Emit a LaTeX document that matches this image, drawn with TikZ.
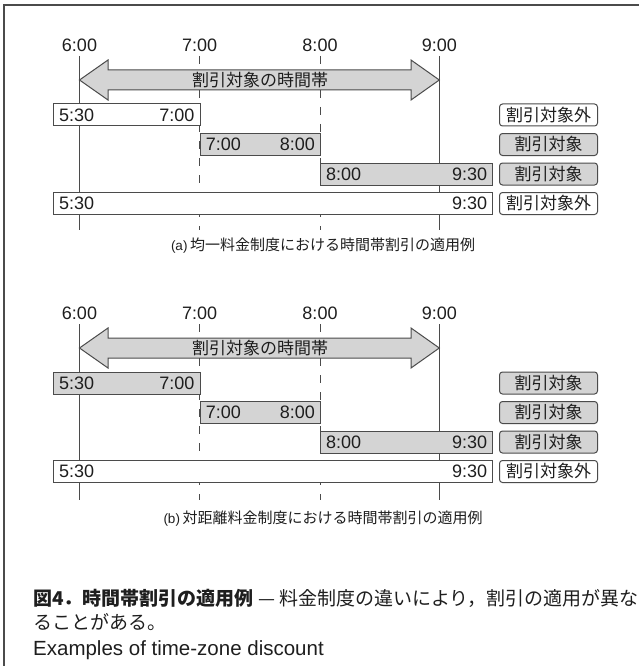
\documentclass[tikz,border=0pt]{standalone}
\usepackage{fontspec}
\setmainfont{Liberation Sans}
\newfontfamily\jp{Noto Sans CJK JP}
\definecolor{lc}{RGB}{75,75,75}
\definecolor{gf}{RGB}{212,212,212}
\definecolor{tc}{RGB}{30,30,30}
\tikzset{
  tm/.style={font=\fontsize{18}{18}\selectfont, text=tc, inner sep=0pt},
  bar/.style={draw=lc, line width=1pt, minimum height=22pt, inner sep=0pt, anchor=north west},
  tag/.style={draw=lc, line width=1pt, rounded corners=3pt, minimum width=98pt, minimum height=22pt,
              inner sep=0pt, anchor=north west, font=\jp\fontsize{17}{17}\selectfont, text=tc},
  vsolid/.style={draw=lc, line width=0.9pt},
  vdash/.style={draw=lc, line width=0.9pt, dash pattern=on 8pt off 9pt},
  arr/.style={draw=lc, line width=1pt, fill=gf},
  arrtxt/.style={font=\jp\fontsize{17}{17}\selectfont, text=tc, inner sep=0pt},
  subcap/.style={font=\jp\fontsize{15}{15}\selectfont, text=tc, inner sep=0pt},
  maincap/.style={font=\jp\fontsize{19}{19}\selectfont, text=tc, inner sep=0pt, anchor=west},
  frame/.style={draw=lc, line width=1.2pt}
}
\begin{document}
\begin{tikzpicture}[x=1pt,y=-1pt]
\useasboundingbox (0,0) rectangle (639,666);
\draw[frame] (639,5) -- (4,5) -- (4,666);

% ---------------- section (a)
\node[tm] (a6) at (79.5,45) {6:00};
\node[tm] (a7) at (199.7,45) {7:00};
\node[tm] (a8) at (320,45) {8:00};
\node[tm] (a9) at (439.3,45) {9:00};
\filldraw[arr] (79.5,80) -- (108,60) -- (108,70) -- (411,70) -- (411,60) -- (439.3,80)
  -- (411,100) -- (411,90) -- (108,90) -- (108,100) -- cycle;
\node[arrtxt] (aA) at (260,80) {割引対象の時間帯};
\coordinate (a6t) at (79.5,56);  \coordinate (a6b) at (79.5,230);
\coordinate (a7t) at (199.7,56); \coordinate (a7b) at (199.7,230);
\coordinate (a8t) at (320,56);   \coordinate (a8b) at (320,230);
\coordinate (a9t) at (439.3,56); \coordinate (a9b) at (439.3,230);
\draw[vsolid] (a6t) -- (a6b);
\draw[vdash] (a7t) -- (a7b);
\draw[vdash] (a8t) -- (a8b);
\draw[vsolid] (a9t) -- (a9b);
\node[bar, fill=white, minimum width=146.7pt] (ar1) at (53,103.5) {};
\node[bar, fill=gf, minimum width=120.3pt] (ar2) at (199.7,133) {};
\node[bar, fill=gf, minimum width=172.3pt] (ar3) at (320,162.5) {};
\node[bar, fill=white, minimum width=439.3pt] (ar4) at (53,192) {};
\node[tm, anchor=west] (ar1l) at ([xshift=6pt]ar1.west) {5:30};
\node[tm, anchor=east] (ar1r) at ([xshift=-6pt]ar1.east) {7:00};
\node[tm, anchor=west] (ar2l) at ([xshift=6pt]ar2.west) {7:00};
\node[tm, anchor=east] (ar2r) at ([xshift=-6pt]ar2.east) {8:00};
\node[tm, anchor=west] (ar3l) at ([xshift=6pt]ar3.west) {8:00};
\node[tm, anchor=east] (ar3r) at ([xshift=-6pt]ar3.east) {9:30};
\node[tm, anchor=west] (ar4l) at ([xshift=6pt]ar4.west) {5:30};
\node[tm, anchor=east] (ar4r) at ([xshift=-6pt]ar4.east) {9:30};
\node[tag, fill=white] (at1) at (499,103.5) {割引対象外};
\node[tag, fill=gf] (at2) at (499,133) {割引対象};
\node[tag, fill=gf] (at3) at (499,162.5) {割引対象};
\node[tag, fill=white] (at4) at (499,192) {割引対象外};
\node[subcap] (acap) at (323,246) {{\rmfamily\fontsize{13.5}{13.5}\selectfont(a)}\,均一料金制度における時間帯割引の適用例};

% ---------------- section (b)
\node[tm] (b6) at (79.5,313) {6:00};
\node[tm] (b7) at (199.7,313) {7:00};
\node[tm] (b8) at (320,313) {8:00};
\node[tm] (b9) at (439.3,313) {9:00};
\filldraw[arr] (79.5,348) -- (108,328) -- (108,338) -- (411,338) -- (411,328) -- (439.3,348)
  -- (411,368) -- (411,358) -- (108,358) -- (108,368) -- cycle;
\node[arrtxt] (bA) at (260,348) {割引対象の時間帯};
\coordinate (b6t) at (79.5,324);  \coordinate (b6b) at (79.5,500);
\coordinate (b7t) at (199.7,324); \coordinate (b7b) at (199.7,500);
\coordinate (b8t) at (320,324);   \coordinate (b8b) at (320,500);
\coordinate (b9t) at (439.3,324); \coordinate (b9b) at (439.3,500);
\draw[vsolid] (b6t) -- (b6b);
\draw[vdash] (b7t) -- (b7b);
\draw[vdash] (b8t) -- (b8b);
\draw[vsolid] (b9t) -- (b9b);
\node[bar, fill=gf, minimum width=146.7pt] (br1) at (53,371.5) {};
\node[bar, fill=gf, minimum width=120.3pt] (br2) at (199.7,401) {};
\node[bar, fill=gf, minimum width=172.3pt] (br3) at (320,430.5) {};
\node[bar, fill=white, minimum width=439.3pt] (br4) at (53,460) {};
\node[tm, anchor=west] (br1l) at ([xshift=6pt]br1.west) {5:30};
\node[tm, anchor=east] (br1r) at ([xshift=-6pt]br1.east) {7:00};
\node[tm, anchor=west] (br2l) at ([xshift=6pt]br2.west) {7:00};
\node[tm, anchor=east] (br2r) at ([xshift=-6pt]br2.east) {8:00};
\node[tm, anchor=west] (br3l) at ([xshift=6pt]br3.west) {8:00};
\node[tm, anchor=east] (br3r) at ([xshift=-6pt]br3.east) {9:30};
\node[tm, anchor=west] (br4l) at ([xshift=6pt]br4.west) {5:30};
\node[tm, anchor=east] (br4r) at ([xshift=-6pt]br4.east) {9:30};
\node[tag, fill=gf] (bt1) at (499,371.5) {割引対象};
\node[tag, fill=gf] (bt2) at (499,401) {割引対象};
\node[tag, fill=gf] (bt3) at (499,430.5) {割引対象};
\node[tag, fill=white] (bt4) at (499,460) {割引対象外};
\node[subcap] (bcap) at (323,519) {{\rmfamily\fontsize{13.5}{13.5}\selectfont(b)}\,対距離料金制度における時間帯割引の適用例};

% ---------------- main caption
\node[maincap] (cap1) at (33,598) {{\bfseries 図4．時間帯割引の適用例}\ — 料金制度の違いにより，割引の適用が異な};
\node[maincap] (cap2) at (33,622) {ることがある。};
\node[maincap, font=\fontsize{20.5}{20.5}\selectfont] (cap3) at (33,650) {Examples of time-zone discount};
\end{tikzpicture}
\end{document}
